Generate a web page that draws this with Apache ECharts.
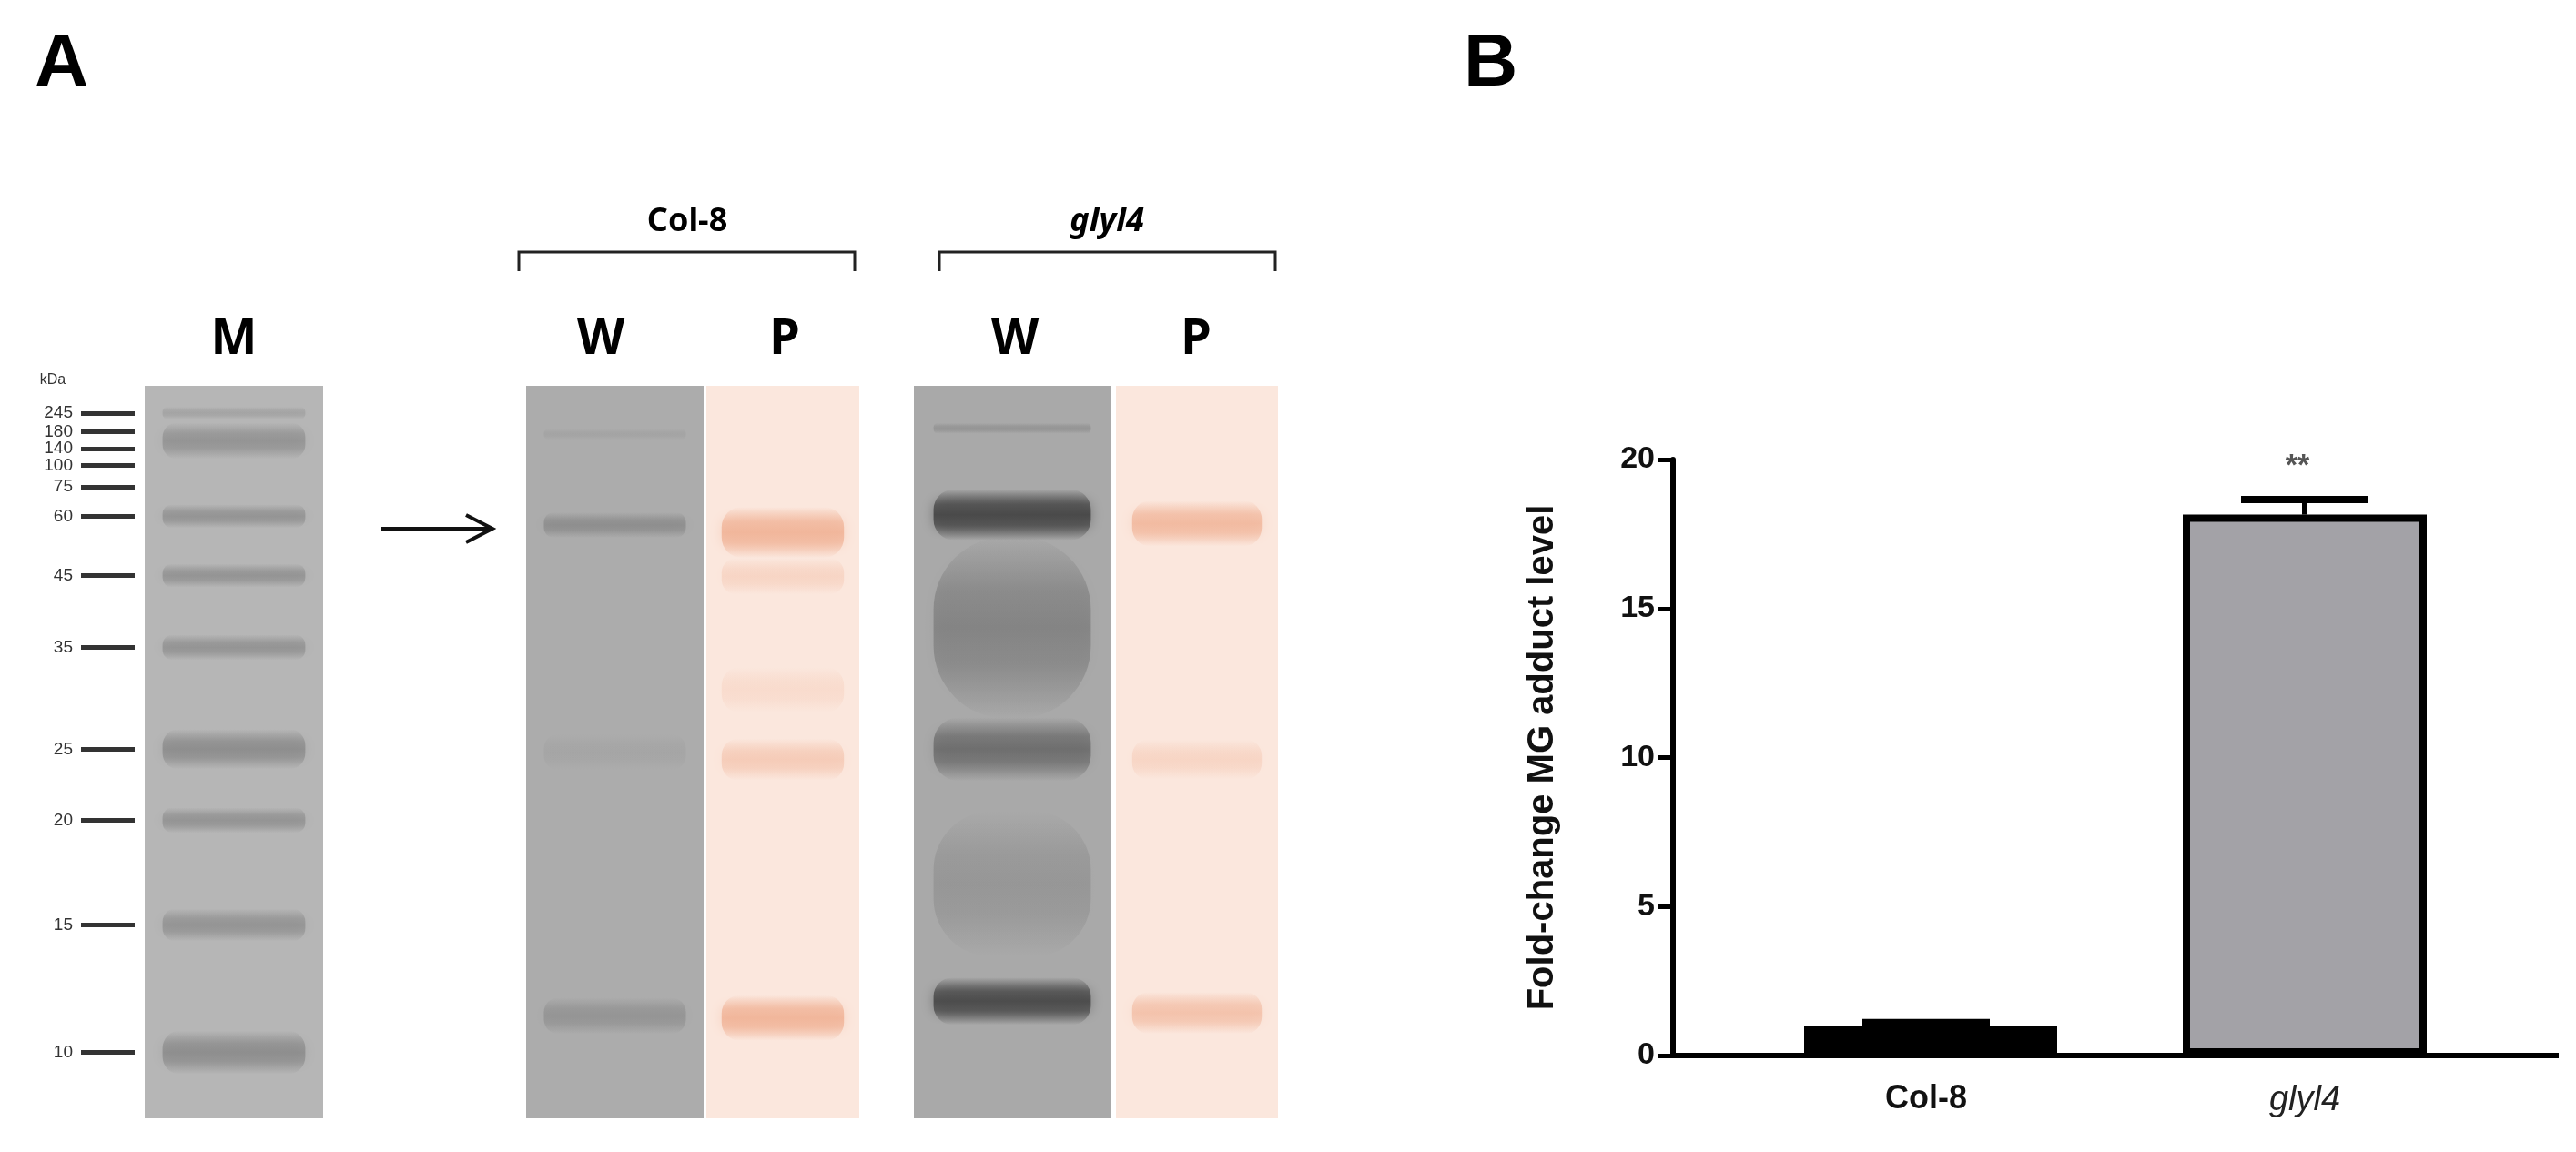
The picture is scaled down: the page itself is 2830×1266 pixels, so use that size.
<!DOCTYPE html>
<html><head><meta charset="utf-8">
<script src="https://cdn.jsdelivr.net/npm/echarts@6/dist/echarts.min.js"></script>
<style>html,body{margin:0;padding:0;background:#fff}#c{width:2830px;height:1266px}</style>
</head><body><div id="c"></div>
<script>
// ---- Panel B data ----
const groups = ['Col-8', 'glyl4'];
const meanValues = [1.0, 18.15];
const semValues = [0.2, 0.6];
const sigMarks = ['', '**'];

// ---- Panel A data ----
const laneNames = ['M', 'W', 'P', 'W', 'P'];
const markerKDa = [245, 180, 140, 100, 75, 60, 45, 35, 25, 20, 15, 10];
const markerRf = [0.037, 0.063, 0.086, 0.109, 0.138, 0.178, 0.259, 0.357, 0.496, 0.593, 0.736, 0.910];
// bands: [lane, rf, intensity(0-1), thickness px]
const bandsM = [[0,0.037,0.3,14],[0,0.075,0.55,40],[0,0.178,0.55,26],[0,0.259,0.55,26],[0,0.357,0.55,28],[0,0.496,0.65,44],[0,0.593,0.55,28],[0,0.736,0.55,36],[0,0.91,0.65,48]];
const bandsColW = [[1,0.066,0.15,12],[1,0.19,0.5,28],[1,0.50,0.12,40],[1,0.86,0.4,40]];
const bandsColP = [[2,0.20,0.85,56],[2,0.26,0.3,40],[2,0.415,0.2,50],[2,0.51,0.45,46],[2,0.863,0.85,50]];
const bandsGlyW = [[3,0.058,0.2,12],[3,0.176,1.0,56],[3,0.33,0.35,200],[3,0.496,0.55,70],[3,0.68,0.18,160],[3,0.84,0.95,52]];
const bandsGlyP = [[4,0.188,0.75,50],[4,0.51,0.3,44],[4,0.856,0.6,46]];

const laneX = [[159,355],[578,773],[776,944],[1004,1220],[1226,1404]];
const laneBg = ['#b6b6b6','#acacac','#fbe7dd','#a9a9a9','#fbe7dd'];
const laneBand = ['#7f7f7f','#777777','#f0b194','#4a4a4a','#f0b194'];

const chart = echarts.init(document.getElementById('c'));
const allBands = [].concat(bandsM, bandsColW, bandsColP, bandsGlyW, bandsGlyP);
const mix = (c, a) => echarts.color.modifyAlpha(c, a);

chart.setOption({
  animation: false,
  grid: [
    {left:148, right:1380, top:424, bottom:1266-1229},
    {left:1908, right:90, top:505, bottom:106}
  ],
  xAxis: [
    {gridIndex:0, type:'value', min:148, max:1450, show:false},
    {gridIndex:1, type:'category', data:groups,
     axisLine:{show:false}, axisTick:{show:false},
     axisLabel:{margin:30, fontFamily:'Liberation Sans', fontWeight:'bold', fontSize:36, color:'#111',
       formatter: v => v === 'glyl4' ? '{i|glyl4}' : v,
       rich:{i:{fontStyle:'italic', fontWeight:'normal', fontFamily:'Liberation Sans', fontSize:38, color:'#222'}}}}
  ],
  yAxis: [
    {gridIndex:0, type:'value', inverse:true, min:0, max:1, splitLine:{show:false},
     axisLine:{show:false},
     axisTick:{show:true, length:59, lineStyle:{color:'#333', width:5}, customValues: markerRf},
     axisLabel:{margin:68, fontFamily:'Liberation Sans Narrow, Liberation Sans', fontSize:19, color:'#333',
       customValues: markerRf, formatter: v => { const i = markerRf.indexOf(v); return i>=0 ? String(markerKDa[i]) : ''; }}},
    {gridIndex:1, type:'value', min:0, max:20, interval:5, offset:70,
     splitLine:{show:false},
     axisLine:{show:true, lineStyle:{color:'#000', width:6}},
     axisTick:{show:true, length:16, lineStyle:{color:'#000', width:5}},
     axisLabel:{margin:20, fontFamily:'Liberation Sans', fontWeight:'bold', fontSize:34, color:'#111'},
     name:'Fold-change MG adduct level', nameLocation:'middle', nameGap:123, nameRotate:90,
     nameTextStyle:{fontFamily:'Liberation Sans', fontWeight:'bold', fontSize:40, color:'#111'}}
  ],
  series: [
    {type:'custom', xAxisIndex:0, yAxisIndex:0, z:1, data: laneNames.map((n,i)=>[i]),
     renderItem:(params, api) => {
       const i = api.value(0);
       const p0 = api.coord([laneX[i][0], 0]), p1 = api.coord([laneX[i][1], 1]);
       return {type:'rect', shape:{x:p0[0], y:p0[1], width:p1[0]-p0[0], height:p1[1]-p0[1]}, style:{fill:laneBg[i]}};
     }},
    {type:'custom', xAxisIndex:0, yAxisIndex:0, z:2, data: allBands, clip:true,
     renderItem:(params, api) => {
       const i = api.value(0), rf = api.value(1), a = api.value(2), h = api.value(3);
       const pc = api.coord([laneX[i][0], rf]);
       const w = laneX[i][1]-laneX[i][0];
       const c = laneBand[i];
       const grad = new echarts.graphic.LinearGradient(0,0,0,1,[
         {offset:0, color:mix(c,0)},{offset:0.3, color:mix(c,a*0.8)},{offset:0.5, color:mix(c,a)},
         {offset:0.7, color:mix(c,a*0.8)},{offset:1, color:mix(c,0)}]);
       return {type:'rect', shape:{x:pc[0]+w*0.1, y:pc[1]-h/2, width:w*0.8, height:h, r:h/2.5},
         style:{fill:grad, shadowBlur:14, shadowColor:mix(c,a*0.5)}};
     }},
    {type:'bar', xAxisIndex:1, yAxisIndex:1, data:[meanValues[0], '-'], barWidth:278, barGap:'-100%',
     itemStyle:{color:'#000'}},
    {type:'bar', xAxisIndex:1, yAxisIndex:1, data:['-', meanValues[1]], barWidth:268, barGap:'-100%',
     itemStyle:{color:'#a3a2a7', borderColor:'#000', borderWidth:8}},
    {type:'custom', xAxisIndex:1, yAxisIndex:1, z:5,
     data: groups.map((g,i)=>[i, meanValues[i], semValues[i]]),
     renderItem:(params, api) => {
       const i = api.value(0), m = api.value(1), e = api.value(2);
       const top = api.coord([i, m+e]), base = api.coord([i, m]);
       const cw = 140;
       const ch = [
         {type:'line', shape:{x1:base[0], y1:base[1], x2:top[0], y2:top[1]}, style:{stroke:'#000', lineWidth:6}},
         {type:'line', shape:{x1:top[0]-cw/2, y1:top[1]+3, x2:top[0]+cw/2, y2:top[1]+3}, style:{stroke:'#000', lineWidth:8}}
       ];
       if (sigMarks[i]) ch.push({type:'text', style:{text:sigMarks[i], x:top[0]-8, y:top[1]-16, align:'center', verticalAlign:'bottom',
         font:'bold 34px Liberation Sans', fill:'#555'}});
       return {type:'group', children:ch};
     }}
  ],
  graphic: [
    {type:'text', left:38, top:30, style:{text:'A', font:'bold 82px Liberation Sans', fill:'#000'}},
    {type:'text', left:1608, top:30, style:{text:'B', font:'bold 82px Liberation Sans', fill:'#000'}},
    {type:'line', shape:{x1:1835, y1:1160, x2:2811, y2:1160}, style:{stroke:'#000', lineWidth:6}},
    {type:'text', x:257, y:374, style:{text:'M', font:'bold 54px Noto Sans', fill:'#000', align:'center', verticalAlign:'middle'}},
    {type:'text', x:660, y:374, style:{text:'W', font:'bold 54px Noto Sans', fill:'#000', align:'center', verticalAlign:'middle'}},
    {type:'text', x:862, y:374, style:{text:'P', font:'bold 54px Noto Sans', fill:'#000', align:'center', verticalAlign:'middle'}},
    {type:'text', x:1115, y:374, style:{text:'W', font:'bold 54px Noto Sans', fill:'#000', align:'center', verticalAlign:'middle'}},
    {type:'text', x:1314, y:374, style:{text:'P', font:'bold 54px Noto Sans', fill:'#000', align:'center', verticalAlign:'middle'}},
    {type:'text', x:58, y:418, style:{text:'kDa', font:'16px Liberation Sans', fill:'#333', align:'center', verticalAlign:'middle'}},
    {type:'polyline', shape:{points:[[570,298],[570,277],[939,277],[939,298]]}, style:{stroke:'#222', lineWidth:3, fill:null}},
    {type:'polyline', shape:{points:[[1032,298],[1032,277],[1401,277],[1401,298]]}, style:{stroke:'#222', lineWidth:3, fill:null}},
    {type:'text', x:755, y:244, style:{text:'Col-8', font:'bold 36px Noto Sans', fill:'#000', align:'center', verticalAlign:'middle'}},
    {type:'text', x:1216, y:244, style:{text:'glyl4', font:'italic bold 36px Noto Sans', fill:'#000', align:'center', verticalAlign:'middle'}},
    {type:'line', shape:{x1:419, y1:581, x2:538, y2:581}, style:{stroke:'#111', lineWidth:4}},
    {type:'polyline', shape:{points:[[512,566],[541,581],[512,596]]}, style:{stroke:'#111', lineWidth:4, fill:null}}
  ]
});
</script></body></html>
